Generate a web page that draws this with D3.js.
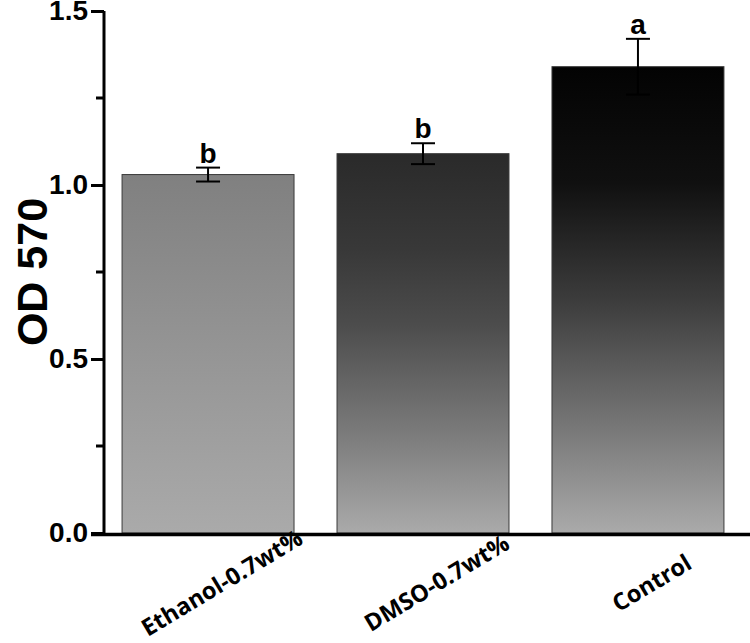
<!DOCTYPE html>
<html>
<head>
<meta charset="utf-8">
<script src="https://cdn.jsdelivr.net/npm/d3@7"></script>
<style>
  html, body { margin: 0; padding: 0; background: #fff; }
  svg { display: block; }
</style>
</head>
<body>
<svg id="chart" width="750" height="643"></svg>
<script>
const categories = ["Ethanol-0.7wt%", "DMSO-0.7wt%", "Control"];
const values = [1.03, 1.09, 1.34];
const errors = [0.02, 0.03, 0.08];
const letters = ["b", "b", "a"];
const yTicks = [0.0, 0.5, 1.0, 1.5];
const yMinorTicks = [0.25, 0.75, 1.25];
const yTitle = "OD 570";

const svg = d3.select("#chart");
const W = 750, H = 643;
const x = d3.scaleBand().domain(categories).range([104, 742]).paddingInner(0.2).paddingOuter(0.084);
const y = d3.scaleLinear().domain([0, 1.5]).range([533, 11]);

// gradients
const gradStops = [
  [{o:0, c:"#808080"}, {o:0.5, c:"#959595"}, {o:1, c:"#aaaaaa"}],
  [{o:0, c:"#2a2a2a"}, {o:0.25, c:"#383838"}, {o:0.45, c:"#4c4c4c"}, {o:0.75, c:"#7d7d7d"}, {o:1, c:"#aaaaaa"}],
  [{o:0, c:"#030303"}, {o:0.25, c:"#101010"}, {o:0.5, c:"#3c3c3c"}, {o:0.75, c:"#727272"}, {o:1, c:"#aaaaaa"}]
];
const defs = svg.append("defs");
categories.forEach((c, i) => {
  const g = defs.append("linearGradient")
    .attr("id", "g" + i)
    .attr("gradientUnits", "userSpaceOnUse")
    .attr("x1", 0).attr("x2", 0)
    .attr("y1", y(values[i])).attr("y2", y(0));
  gradStops[i].forEach(s => g.append("stop").attr("offset", s.o).attr("stop-color", s.c));
});

// bars
svg.append("g").selectAll("rect").data(categories).join("rect")
  .attr("x", d => x(d))
  .attr("y", (d, i) => y(values[i]))
  .attr("width", x.bandwidth())
  .attr("height", (d, i) => y(0) - y(values[i]))
  .attr("fill", (d, i) => `url(#g${i})`)
  .attr("stroke", "#3a3a3a")
  .attr("stroke-width", 1);

// error bars
const eb = svg.append("g").attr("stroke", "#000").attr("stroke-width", 2);
categories.forEach((c, i) => {
  const cx = x(c) + x.bandwidth() / 2;
  const top = y(values[i] + errors[i]);
  const bot = y(values[i] - errors[i]);
  eb.append("line").attr("x1", cx).attr("x2", cx).attr("y1", top).attr("y2", bot);
  eb.append("line").attr("x1", cx - 12).attr("x2", cx + 12).attr("y1", top).attr("y2", top);
  eb.append("line").attr("x1", cx - 12).attr("x2", cx + 12).attr("y1", bot).attr("y2", bot);
});

// significance letters
svg.append("g").selectAll("text").data(categories).join("text")
  .attr("x", d => x(d) + x.bandwidth() / 2)
  .attr("y", (d, i) => y(values[i] + errors[i]) - 5)
  .attr("text-anchor", "middle")
  .attr("font-family", "Liberation Sans, Arial, sans-serif")
  .attr("font-weight", "bold")
  .attr("font-size", 28)
  .text((d, i) => letters[i]);

// y axis
const yAxis = svg.append("g").attr("transform", "translate(104,0)")
  .call(d3.axisLeft(y).tickValues(yTicks).tickFormat(d3.format(".1f")).tickSize(13).tickPadding(3));
yAxis.select(".domain").attr("stroke-width", 3).attr("d", `M0,${y(1.5)}V${y(0)}`);
yAxis.selectAll(".tick line").attr("stroke-width", 3);
yAxis.selectAll(".tick text")
  .attr("font-family", "Liberation Sans, Arial, sans-serif")
  .attr("font-weight", "bold")
  .attr("font-size", 28)
  .attr("fill", "#000");
svg.append("g").attr("transform", "translate(104,0)")
  .selectAll("line").data(yMinorTicks).join("line")
  .attr("x1", -8).attr("x2", 0)
  .attr("y1", d => y(d)).attr("y2", d => y(d))
  .attr("stroke", "#000").attr("stroke-width", 3);

// x axis line
svg.append("line")
  .attr("x1", 91).attr("x2", W)
  .attr("y1", y(0) + 1.5).attr("y2", y(0) + 1.5)
  .attr("stroke", "#000").attr("stroke-width", 3.5);

// x labels
svg.append("g").selectAll("text").data(categories).join("text")
  .attr("transform", d => `translate(${x(d) + x.bandwidth() / 2 + 18},${590}) rotate(-31)`)
  .attr("text-anchor", "middle")
  .attr("font-family", "Open Sans, sans-serif")
  .attr("font-weight", "bold")
  .attr("font-size", 23.5)
  .attr("fill", "#000")
  .text(d => d);

// y title
svg.append("text")
  .attr("transform", `translate(47,${272}) rotate(-90)`)
  .attr("text-anchor", "middle")
  .attr("font-family", "Liberation Sans, Arial, sans-serif")
  .attr("font-weight", "bold")
  .attr("font-size", 43)
  .attr("fill", "#000")
  .text(yTitle);
</script>
</body>
</html>
